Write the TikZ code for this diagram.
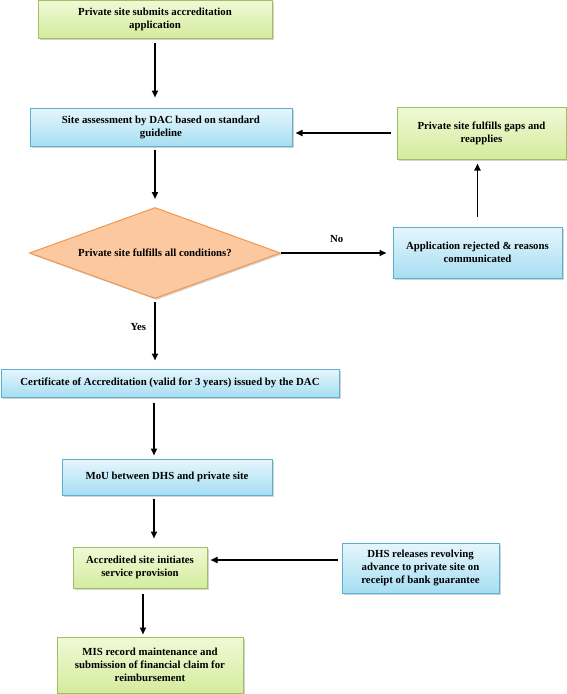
\documentclass[tikz,border=0pt]{standalone}
\usepackage{fontspec}
\setmainfont{Liberation Serif}
\usetikzlibrary{shapes.geometric,arrows.meta,shadows}
\definecolor{greentop}{HTML}{F0F9D6}
\definecolor{greenbot}{HTML}{D4EC9E}
\definecolor{greenline}{HTML}{A2BE62}
\definecolor{bluetop}{HTML}{E6F6FC}
\definecolor{bluebot}{HTML}{A6DEF2}
\definecolor{blueline}{HTML}{5BB0CE}
\definecolor{orangefill}{HTML}{FBC8A0}
\definecolor{orangeline}{HTML}{F0974F}

\begin{document}
\begin{tikzpicture}[x=1pt,y=-1pt,
		every node/.style={font=\fontsize{10.8}{13}\selectfont\bfseries, align=center, inner sep=0pt},
		boxshadow/.style={drop shadow={shadow xshift=1.5pt, shadow yshift=-1.5pt, opacity=0.35, fill=gray}},
		greenbox/.style={rectangle, draw=greenline, line width=1pt, top color=greentop, bottom color=greenbot, boxshadow},
		bluebox/.style={rectangle, draw=blueline, line width=1pt, top color=bluetop, bottom color=bluebot, boxshadow},
		flow/.style={line width=1.8pt, -{Triangle[length=7pt,width=6pt]}}]
	\useasboundingbox (0,0) rectangle (567,694);
	\node [greenbox, minimum width=234, minimum height=38] (submit) at (155,19) {Private site submits accreditation\\application};
	\node [bluebox, minimum width=262, minimum height=38] (assess) at (161,127) {Site assessment by DAC based on standard\\guideline};
	\node [greenbox, minimum width=169, minimum height=52] (gaps) at (481.5,133) {Private site fulfills gaps and\\reapplies};
	\node [diamond, aspect=2.76, draw=orangeline, line width=1pt, fill=orangefill, minimum width=251, minimum height=91, boxshadow] (cond) at (155,253) {Private site fulfills all conditions?};
	\node [bluebox, minimum width=169, minimum height=51] (reject) at (477.5,252.5) {Application rejected \& reasons\\communicated};
	\node [bluebox, minimum width=338, minimum height=28] (cert) at (170,383) {Certificate of Accreditation (valid for 3 years) issued by the DAC};
	\node [bluebox, minimum width=210, minimum height=36] (mou) at (167,477) {MoU between DHS and private site};
	\node [greenbox, minimum width=134, minimum height=41] (init) at (140,567.5) {Accredited site initiates\\service provision};
	\node [bluebox, minimum width=157, minimum height=50] (dhs) at (420.5,568) {DHS releases revolving\\advance to private site on\\receipt of bank guarantee};
	\node [greenbox, minimum width=186, minimum height=56] (mis) at (150,665) {MIS record maintenance and\\submission of financial claim for\\reimbursement};
	\draw [flow, shorten <=4, shorten >=10] (submit.south) -- (submit.south |- assess.north);
	\draw [flow, shorten <=3, shorten >=8] (submit.south |- assess.south) -- (cond.north);
	\draw [flow, shorten <=3, shorten >=8] (cond.south) -- node [left=8pt, pos=0.4] (yes) {Yes} (cond.south |- cert.north);
	\draw [flow, shorten >=6] (cond.east) -- node [above=10pt] (no) {No} (reject.west |- cond.east);
	\draw [flow, shorten <=10, shorten >=4] (reject.north) -- (reject.north |- gaps.south);
	\draw [flow, shorten <=6, shorten >=3] (gaps.west) -- (gaps.west -| assess.east);
	\draw [flow, shorten <=5, shorten >=3] ([xshift=-16]cert.south) -- ([xshift=-16]cert.south |- mou.north);
	\draw [flow, shorten <=3, shorten >=8] ([xshift=-13]mou.south) -- ([xshift=-13]mou.south |- init.north);
	\draw [flow, shorten <=4, shorten >=3] ([yshift=8]dhs.west) -- ([yshift=8]dhs.west -| init.east);
	\draw [flow, shorten <=5, shorten >=2] ([xshift=3]init.south) -- ([xshift=3]init.south |- mis.north);
\end{tikzpicture}
\end{document}
